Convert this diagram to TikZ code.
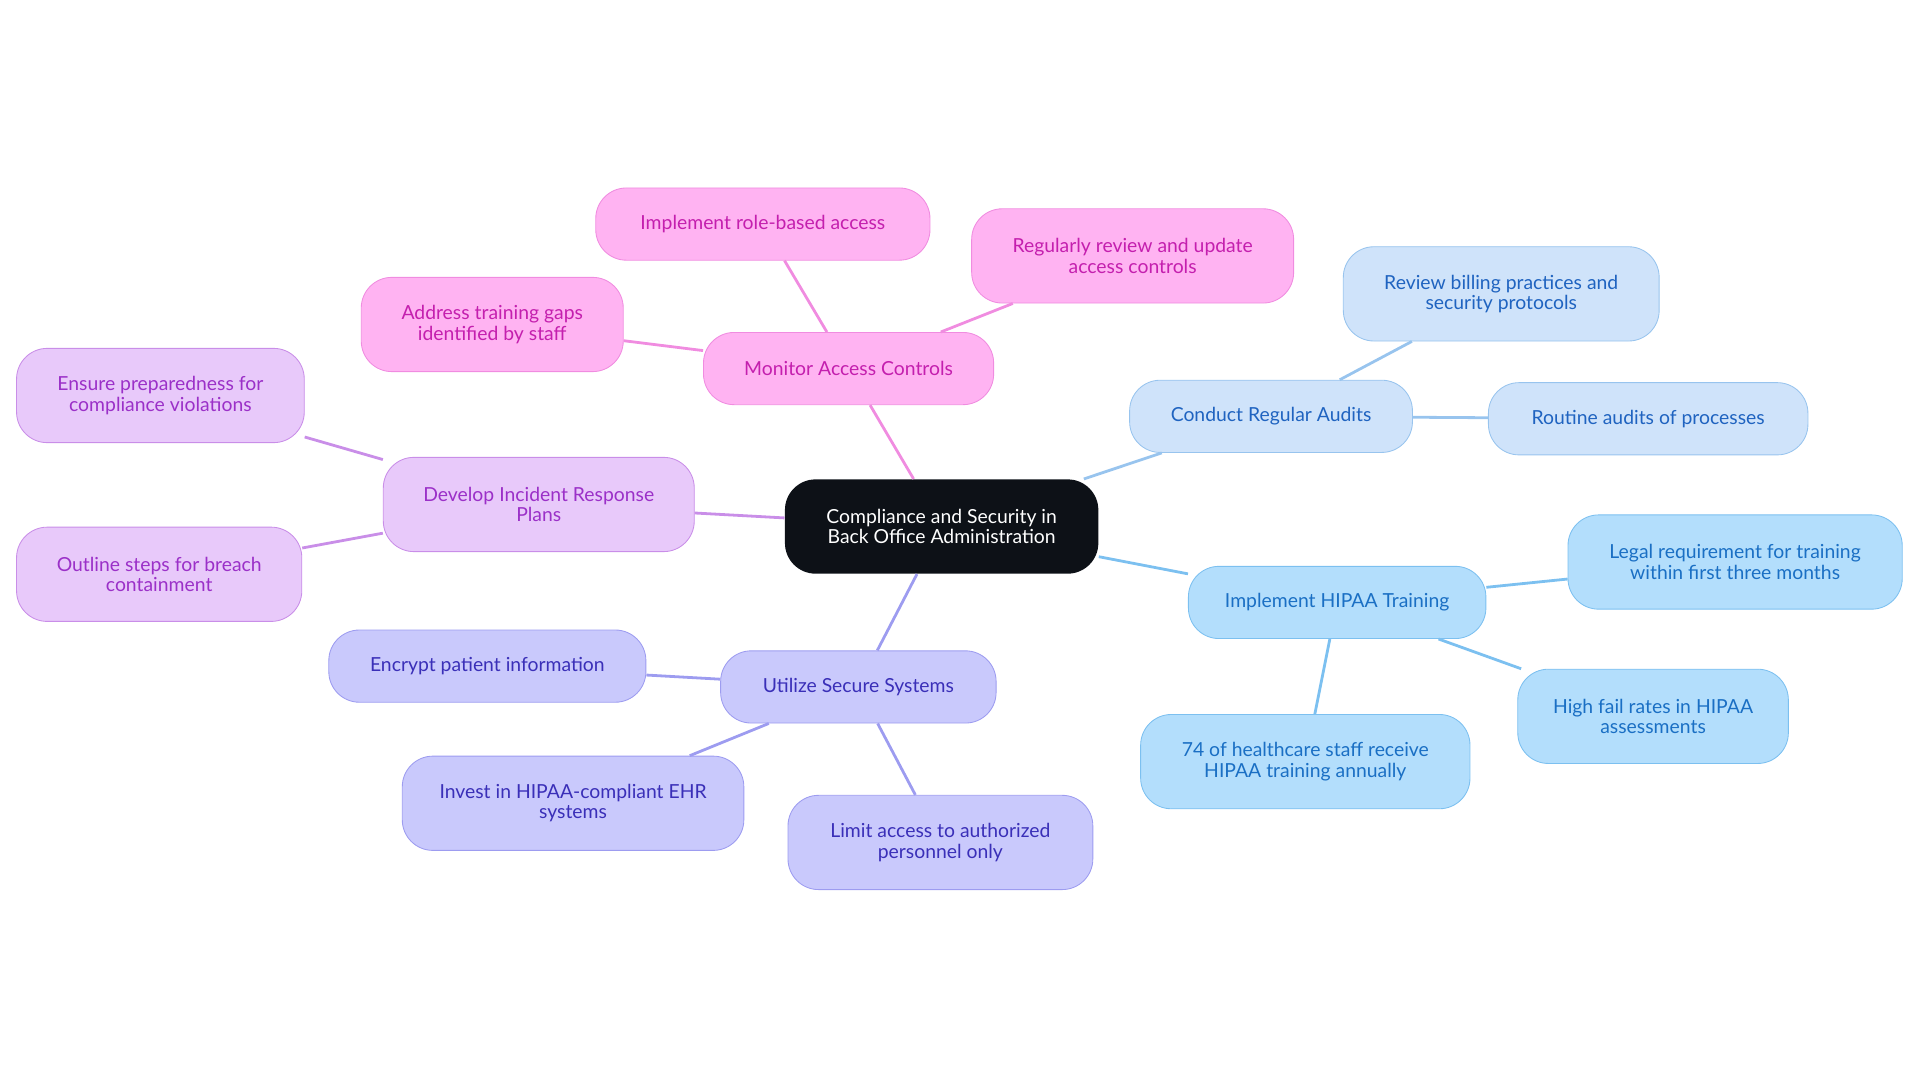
\documentclass[tikz,border=0pt]{standalone}
\usepackage{fontspec}
\setmainfont{Lato}
\definecolor{pinkF}{HTML}{FFB3F2}\definecolor{pinkD}{HTML}{F08CE0}\definecolor{pinkT}{HTML}{C41FAE}
\definecolor{violF}{HTML}{E8C9FA}\definecolor{violD}{HTML}{C98EE8}\definecolor{violT}{HTML}{9B30C8}
\definecolor{indF}{HTML}{C9C9FC}\definecolor{indD}{HTML}{9D9CF0}\definecolor{indT}{HTML}{3A2FB8}
\definecolor{audF}{HTML}{CFE3FA}\definecolor{audD}{HTML}{98C4EE}\definecolor{audT}{HTML}{1F63C0}
\definecolor{hipF}{HTML}{B3DEFC}\definecolor{hipD}{HTML}{7CC0F0}\definecolor{hipT}{HTML}{1A6FC4}
\definecolor{rootF}{HTML}{0D1117}
\begin{document}
\begin{tikzpicture}[x=0.02cm,y=-0.02cm]
  \tikzset{box/.style = {shape=rectangle,rounded corners=0.5cm,align=center,font=\fontsize{9}{9.5}\selectfont,inner sep=2pt}}
  \tikzset{pinkbox/.style = {box,fill=pinkF,draw=pinkD,text=pinkT}}
  \tikzset{violbox/.style = {box,fill=violF,draw=violD,text=violT}}
  \tikzset{indbox/.style = {box,fill=indF,draw=indD,text=indT}}
  \tikzset{audbox/.style = {box,fill=audF,draw=audD,text=audT}}
  \tikzset{hipbox/.style = {box,fill=hipF,draw=hipD,text=hipT}}
  \useasboundingbox (0,0) rectangle (1568,884);

	\node[box,fill=rootF,text=white,minimum width=5.12cm,minimum height=1.54cm] (root) at (769,430) {Compliance and Security in\\Back Office Administration};

	\node[pinkbox,minimum width=4.74cm,minimum height=1.18cm] (mon) at (693,301) {Monitor Access Controls};
	\node[pinkbox,minimum width=5.46cm,minimum height=1.18cm] (role) at (623,183) {Implement role-based access};
	\node[pinkbox,minimum width=5.26cm,minimum height=1.54cm] (rev) at (925,209) {Regularly review and update\\access controls};
	\node[pinkbox,minimum width=4.28cm,minimum height=1.54cm] (gaps) at (402,265) {Address training gaps\\identified by staff};

	\node[violbox,minimum width=5.08cm,minimum height=1.54cm] (inc) at (440,412) {Develop Incident Response\\Plans};
	\node[violbox,minimum width=4.70cm,minimum height=1.54cm] (prep) at (131,323) {Ensure preparedness for\\compliance violations};
	\node[violbox,minimum width=4.66cm,minimum height=1.54cm] (outl) at (130,469) {Outline steps for breach\\containment};

	\node[indbox,minimum width=4.50cm,minimum height=1.18cm] (sec) at (701,561) {Utilize Secure Systems};
	\node[indbox,minimum width=5.18cm,minimum height=1.18cm] (enc) at (398,544) {Encrypt patient information};
	\node[indbox,minimum width=5.58cm,minimum height=1.54cm] (ehr) at (468,656) {Invest in HIPAA-compliant EHR\\systems};
	\node[indbox,minimum width=4.98cm,minimum height=1.54cm] (lim) at (768,688) {Limit access to authorized\\personnel only};

	\node[audbox,minimum width=4.62cm,minimum height=1.18cm] (aud) at (1038,340) {Conduct Regular Audits};
	\node[audbox,minimum width=5.16cm,minimum height=1.54cm] (bill) at (1226,240) {Review billing practices and\\security protocols};
	\node[audbox,minimum width=5.22cm,minimum height=1.18cm] (rout) at (1346,342) {Routine audits of processes};

	\node[hipbox,minimum width=4.86cm,minimum height=1.18cm] (hip) at (1092,492) {Implement HIPAA Training};
	\node[hipbox,minimum width=5.46cm,minimum height=1.54cm] (legal) at (1417,459) {Legal requirement for training\\within first three months};
	\node[hipbox,minimum width=4.42cm,minimum height=1.54cm] (fail) at (1350,585) {High fail rates in HIPAA\\assessments};
	\node[hipbox,minimum width=5.38cm,minimum height=1.54cm] (staff) at (1066,622) {74 of healthcare staff receive\\HIPAA training annually};

    \foreach \from/\to/\col in {root/mon/pinkD, mon/role/pinkD, mon/rev/pinkD, mon/gaps/pinkD,
      root/inc/violD, inc/prep/violD, inc/outl/violD,
      root/sec/indD, sec/enc/indD, sec/ehr/indD, sec/lim/indD,
      root/aud/audD, aud/bill/audD, aud/rout/audD,
      root/hip/hipD, hip/legal/hipD, hip/fail/hipD, hip/staff/hipD}
    \draw[\col,line width=1.3pt] (\from) -- (\to);
\end{tikzpicture}
\end{document}
